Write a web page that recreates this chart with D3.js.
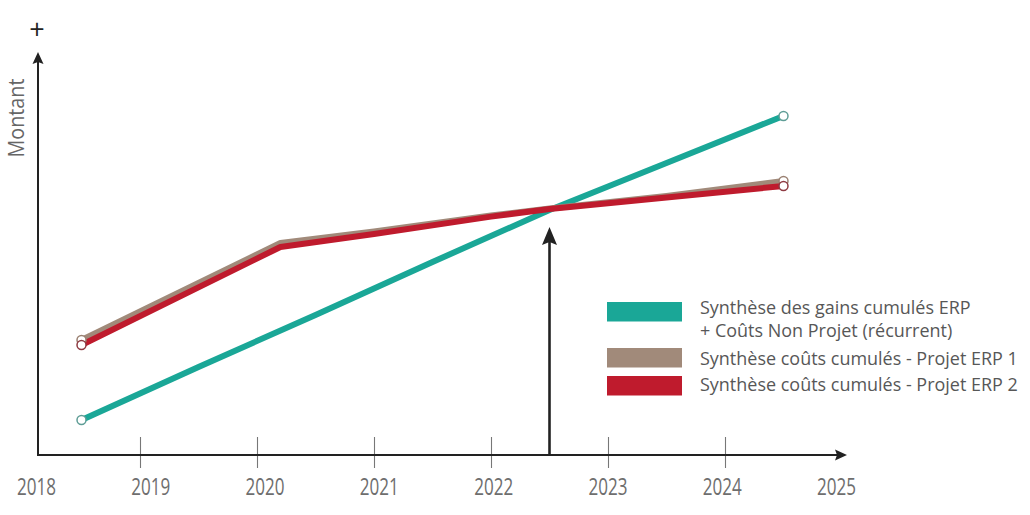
<!DOCTYPE html>
<html><head><meta charset="utf-8">
<script src="https://cdn.jsdelivr.net/npm/d3@7"></script>
<style>body{margin:0;background:#fff}svg{display:block}</style>
</head><body><svg id="c" width="1030" height="515"></svg>
<script>
// ---------- data ----------
const labelYears = [2018, 2019, 2020, 2021, 2022, 2023, 2024, 2025];
const tickYears = [2019, 2020, 2021, 2022, 2023, 2024];

const gainsYears = [2018.5, 2019.5, 2020.5, 2021.5, 2022.5, 2023.5, 2024.5];
const gainsValues = [8.75, 22, 35, 48.25, 61.25, 73, 84.75];

const costYears = [2018.5, 2020.2, 2021, 2022, 2022.5, 2023.5, 2024.5];
const costs1Values = [28.75, 53, 55.9, 59.9, 61.6, 64.75, 68.5];
const costs2Values = [27.5, 52, 55.25, 59.6, 61.5, 64.4, 67.25];

const breakEvenYear = 2022.5;
const breakEvenValue = 57;

const legendLabels = [
  ["Synthèse des gains cumulés ERP", "+ Coûts Non Projet (récurrent)"],
  ["Synthèse coûts cumulés - Projet ERP 1"],
  ["Synthèse coûts cumulés - Projet ERP 2"]
];
const axisTitle = "Montant";
const axisPlus = "+";

// ---------- setup ----------
const svg = d3.select("#c");
const FONT = "'Open Sans', 'Noto Sans', sans-serif";
const colTeal = "#1aa797", colBrown = "#a18a7a", colRed = "#bf1b2d";

const x = d3.scaleLinear().domain([2018, 2025]).range([23, 842]);
const xLab = d3.scaleLinear().domain([2018, 2025]).range([36, 836]);
const y = d3.scaleLinear().domain([0, 100]).range([455, 55]);

const axisLeftX = 38, axisBottomY = 455, axisTopY = 52, axisRightX = 847;

function squeeze(sel, k) {
  sel.each(function () {
    const n = this.getComputedTextLength();
    d3.select(this).attr("textLength", n * k).attr("lengthAdjust", "spacingAndGlyphs");
  });
}

// ---------- x axis ticks & labels ----------
const gx = svg.append("g").attr("transform", `translate(0,${axisBottomY})`)
  .call(d3.axisBottom(x).tickValues(tickYears).tickSize(13).tickFormat(""));
gx.select(".domain").remove();
gx.selectAll(".tick line").attr("y1", -18).attr("y2", 13).attr("stroke", "#777").attr("stroke-width", 1.1);

const gl = svg.append("g").attr("transform", `translate(0,${axisBottomY})`)
  .call(d3.axisBottom(xLab).tickValues(labelYears).tickSize(0).tickPadding(0).tickFormat(d3.format("d")));
gl.select(".domain").remove();
gl.selectAll(".tick text").attr("y", 40).attr("dy", 0)
  .attr("font-family", FONT).attr("font-size", 23).attr("fill", "#6e6e6e");
{
  const n = gl.select(".tick text").node().getComputedTextLength();
  squeeze(gl.selectAll(".tick text"), 39 / n);
}

// ---------- axes lines with arrows ----------
svg.append("line").attr("x1", axisLeftX).attr("x2", axisLeftX)
  .attr("y1", axisBottomY + 1).attr("y2", axisTopY + 8)
  .attr("stroke", "#222").attr("stroke-width", 2);
svg.append("path")
  .attr("d", `M${axisLeftX},${axisTopY} L${axisLeftX + 5.5},${axisTopY + 12} L${axisLeftX},${axisTopY + 10} L${axisLeftX - 5.5},${axisTopY + 12} Z`)
  .attr("fill", "#222");

svg.append("line").attr("x1", axisLeftX - 1).attr("x2", axisRightX - 8)
  .attr("y1", axisBottomY).attr("y2", axisBottomY)
  .attr("stroke", "#222").attr("stroke-width", 2);
svg.append("path")
  .attr("d", `M${axisRightX},${axisBottomY} L${axisRightX - 12},${axisBottomY + 5.5} L${axisRightX - 10},${axisBottomY} L${axisRightX - 12},${axisBottomY - 5.5} Z`)
  .attr("fill", "#222");

// axis title
svg.append("text").attr("transform", `translate(24,118) rotate(-90)`)
  .attr("text-anchor", "middle").attr("font-family", FONT).attr("font-size", 21)
  .attr("fill", "#666").text(axisTitle)
  .call(s => { const n = s.node().getComputedTextLength(); squeeze(s, 79 / n); });
svg.append("text").attr("x", 37).attr("y", 39).attr("text-anchor", "middle")
  .attr("font-family", FONT).attr("font-size", 27).attr("fill", "#222").text(axisPlus);

// ---------- break-even arrow ----------
const ax = x(breakEvenYear), aTop = y(breakEvenValue);
svg.append("line").attr("x1", ax).attr("x2", ax).attr("y1", axisBottomY - 1).attr("y2", aTop + 12)
  .attr("stroke", "#222").attr("stroke-width", 2.6);
svg.append("path")
  .attr("d", `M${ax},${aTop} L${ax + 7.5},${aTop + 18} L${ax},${aTop + 15} L${ax - 7.5},${aTop + 18} Z`)
  .attr("fill", "#222");

// ---------- lines ----------
const line = d3.line().x(d => x(d[0])).y(d => y(d[1]));
const series = [
  { years: gainsYears, values: gainsValues, color: colTeal, dot: "#5f9d96" },
  { years: costYears, values: costs1Values, color: colBrown, dot: "#9a8172" },
  { years: costYears, values: costs2Values, color: colRed, dot: "#8e3a42" }
];
series.forEach(s => {
  const pts = s.years.map((yr, i) => [yr, s.values[i]]);
  svg.append("path").attr("d", line(pts))
    .attr("fill", "none").attr("stroke", s.color).attr("stroke-width", 6)
    .attr("stroke-linejoin", "round").attr("stroke-linecap", "round");
});
series.forEach(s => {
  const pts = [[s.years[0], s.values[0]], [s.years[s.years.length - 1], s.values[s.values.length - 1]]];
  svg.selectAll(null).data(pts).join("circle")
    .attr("cx", d => x(d[0])).attr("cy", d => y(d[1])).attr("r", 4.5)
    .attr("fill", "#fff").attr("stroke", s.dot).attr("stroke-width", 1.5);
});

// ---------- legend ----------
const legendColors = [colTeal, colBrown, colRed];
const swatchY = [302, 348, 376];
const textBase = [[314, 337], [365], [391]];
const lg = svg.append("g");
legendLabels.forEach((lines, i) => {
  lg.append("rect").attr("x", 607).attr("y", swatchY[i]).attr("width", 75).attr("height", 19.5)
    .attr("fill", legendColors[i]);
  lines.forEach((t, j) => {
    lg.append("text").attr("class", "lt").attr("x", 700).attr("y", textBase[i][j])
      .attr("font-family", FONT).attr("font-size", 20).attr("fill", "#575757").text(t);
  });
});
{
  const ref = lg.selectAll(".lt").filter((d, i) => i === 2).node().getComputedTextLength();
  lg.selectAll(".lt").attr("font-size", 20 * 318 / ref);
}
</script>
</body></html>
